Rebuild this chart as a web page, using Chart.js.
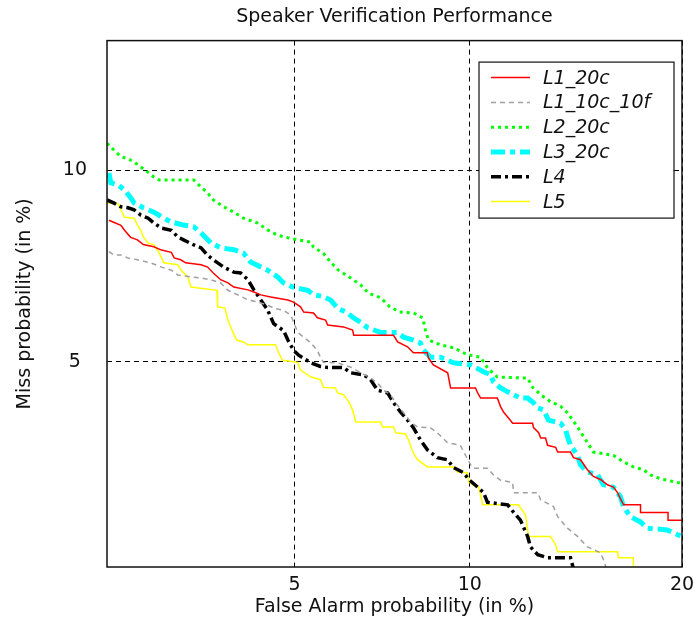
<!DOCTYPE html>
<html><head><meta charset="utf-8">
<script src="https://cdn.jsdelivr.net/npm/chart.js@4.4.1/dist/chart.umd.min.js"></script>
<style>html,body{margin:0;padding:0;background:#fff;} canvas{display:block;}</style>
</head><body>
<canvas id="c" width="693" height="626"></canvas>
<script>
// ---------- data (values in %) ----------
const chartTitle = 'Speaker Verification Performance';
const xTitle = 'False Alarm probability (in %)';
const yTitle = 'Miss probability (in %)';
const xTicks = [5, 10, 20];
const yTicks = [5, 10];
const xRange = [2.1, 20];
const yRange = [2.1, 15];
const seriesNames = ['L1_20c', 'L1_10c_10f', 'L2_20c', 'L3_20c', 'L4', 'L5'];

const L1_20c_fa = [2.12,2.17,2.25,2.29,2.36,2.44,2.51,2.64,2.74,2.87,2.91,3.0,3.07,3.30,3.40,3.49,3.61,3.73,3.83,4.08,4.19,4.32,4.51,4.86,4.98,5.13,5.2,5.42,5.51,5.70,5.75,6.14,6.37,6.40,7.5,7.62,7.92,8.10,8.54,8.58,8.74,9.22,9.32,10.21,10.29,10.40,11.04,11.17,11.29,11.49,11.65,12.48,12.52,12.74,12.83,13.04,13.13,13.49,13.58,14.17,14.31,14.64,14.97,15.26,15.61,15.96,16.26,16.47,16.78,17.68,17.68,19.2,19.2,20];
const L1_20c_miss = [8.43,8.37,8.28,8.14,7.94,7.87,7.74,7.68,7.59,7.53,7.38,7.33,7.25,7.2,7.14,6.99,6.82,6.74,6.64,6.57,6.52,6.45,6.4,6.33,6.28,6.17,6.05,6.03,5.92,5.87,5.76,5.72,5.65,5.54,5.54,5.4,5.3,5.18,5.18,5.07,4.94,4.79,4.51,4.51,4.42,4.33,4.33,4.18,4.09,3.99,3.91,3.91,3.84,3.76,3.68,3.68,3.57,3.54,3.47,3.47,3.39,3.36,3.22,3.13,3.09,3.02,2.99,2.92,2.77,2.77,2.68,2.68,2.59,2.59];

const L1_10c_10f_fa = [2.12,2.17,2.25,2.33,2.44,2.60,2.74,2.87,2.96,3.15,3.30,3.45,3.61,3.73,3.90,4.08,4.26,4.45,4.57,4.77,4.92,4.98,5.07,5.20,5.36,5.51,5.58,5.65,5.99,6.31,6.58,6.85,7.04,7.21,7.41,7.61,7.8,8.01,8.23,8.64,8.87,9.21,9.66,9.85,10.03,10.14,10.67,10.89,11.17,11.65,11.69,12.70,12.83,13.39,13.58,14.03,14.5,14.97,15.61,15.76,15.91];
const L1_10c_10f_miss = [7.55,7.46,7.46,7.38,7.33,7.25,7.14,7.06,6.94,6.89,6.86,6.82,6.74,6.56,6.45,6.33,6.28,6.21,6.14,6.09,5.98,5.83,5.6,5.5,5.38,5.22,5.09,4.99,4.98,4.9,4.79,4.69,4.6,4.47,4.39,4.21,4.08,3.93,3.85,3.84,3.76,3.61,3.57,3.42,3.29,3.24,3.24,3.15,3.08,3.05,2.92,2.92,2.83,2.75,2.63,2.5,2.41,2.30,2.24,2.17,2.08];

const L2_20c_fa = [2.1,2.17,2.25,2.33,2.40,2.48,2.565,2.64,2.71,3.19,3.30,3.40,3.49,3.66,3.83,4.0,4.26,4.45,4.65,4.86,5.07,5.36,5.42,5.65,5.82,6.01,6.31,6.58,6.79,7.13,7.39,7.68,8.10,8.39,8.48,8.58,8.98,9.42,9.92,10.40,10.66,11.04,12.27,12.48,12.83,13.26,13.71,14.03,14.5,14.97,15.26,16.27,16.78,17.3,17.84,18.22,18.77,19.95,20];
const L2_20c_miss = [10.92,10.69,10.45,10.38,10.27,10.10,9.93,9.77,9.67,9.67,9.44,9.26,9.04,8.83,8.67,8.49,8.35,8.15,8.0,7.93,7.87,7.81,7.67,7.5,7.27,7.06,6.87,6.69,6.49,6.38,6.17,6.05,6.03,5.92,5.65,5.44,5.34,5.28,5.14,5.09,4.88,4.71,4.69,4.52,4.39,4.27,4.19,4.08,3.85,3.61,3.47,3.42,3.33,3.26,3.22,3.15,3.10,3.04,3.03];

const L3_20c_fa = [2.12,2.14,2.22,2.29,2.36,2.40,2.51,2.64,2.77,2.87,3.04,3.19,3.30,3.45,3.61,3.83,4.0,4.13,4.32,4.45,4.65,4.77,4.98,5.29,5.42,5.65,5.82,5.99,6.24,6.39,6.58,6.77,7.13,7.61,7.8,8.1,8.32,8.41,8.64,8.98,9.42,10.03,10.51,10.78,10.89,11.17,11.45,11.69,11.97,12.27,12.52,12.7,12.95,13.17,13.71,13.94,14.03,14.17,14.5,14.64,14.97,15.47,15.76,16.26,16.62,16.78,17.14,17.68,18.05,19.16,19.72,20];
const L3_20c_miss = [9.9,9.58,9.51,9.35,9.11,8.95,8.8,8.67,8.49,8.38,8.29,8.24,8.06,7.79,7.65,7.60,7.51,7.27,7.14,7.06,6.89,6.74,6.63,6.56,6.45,6.41,6.33,6.14,6.03,5.92,5.82,5.7,5.6,5.6,5.5,5.44,5.38,5.24,5.09,5.09,4.98,4.94,4.81,4.75,4.62,4.51,4.44,4.39,4.33,4.33,4.25,4.16,4.13,3.96,3.91,3.81,3.7,3.57,3.42,3.29,3.19,3.15,3.02,2.99,2.87,2.75,2.63,2.57,2.5,2.48,2.43,2.41];

const L4_fa = [2.1,2.17,2.25,2.33,2.40,2.48,2.57,2.64,2.74,2.87,2.96,3.04,3.19,3.30,3.40,3.49,3.66,3.83,3.95,4.08,4.19,4.32,4.45,4.57,4.77,4.86,4.98,5.09,5.36,5.58,5.75,6.14,6.31,6.66,6.85,7.04,7.33,7.5,7.71,7.92,8.10,8.32,8.55,8.87,9.21,9.42,9.78,9.96,10.29,10.51,10.66,11.45,11.69,11.97,12.1,12.27,12.39,12.7,13.13,14.17,14.31];
const L4_miss = [9.04,8.95,8.83,8.8,8.74,8.58,8.49,8.35,8.2,8.14,7.95,7.87,7.73,7.65,7.45,7.33,7.14,7.01,6.99,6.82,6.57,6.33,6.1,5.79,5.64,5.44,5.23,5.13,4.98,4.91,4.89,4.89,4.79,4.75,4.66,4.47,4.42,4.25,4.09,3.96,3.84,3.65,3.5,3.39,3.36,3.25,3.18,3.09,2.99,2.92,2.8,2.77,2.68,2.59,2.51,2.41,2.30,2.22,2.19,2.19,2.08];

const L5_fa = [2.1,2.22,2.25,2.29,2.40,2.44,2.48,2.51,2.57,2.64,2.70,2.74,2.77,2.96,3.0,3.10,3.15,3.55,3.56,3.68,3.73,3.80,3.88,4.0,4.08,4.61,4.67,4.75,5.07,5.13,5.36,5.58,5.65,5.94,5.99,6.14,6.27,6.37,6.45,7.13,7.18,7.5,7.56,7.86,7.95,8.10,8.23,8.55,9.42,9.56,9.92,9.96,10.1,10.33,10.48,11.89,12.18,12.27,12.31,13.26,13.49,13.58,16.47,16.52,17.3,17.3];
const L5_miss = [8.95,8.92,8.74,8.52,8.49,8.29,8.14,7.95,7.78,7.74,7.55,7.38,7.25,7.2,7.07,6.89,6.64,6.56,6.17,6.14,5.87,5.65,5.44,5.4,5.34,5.34,5.18,5.03,4.99,4.84,4.71,4.66,4.52,4.51,4.42,4.39,4.27,4.13,3.93,3.93,3.85,3.85,3.76,3.74,3.65,3.45,3.36,3.26,3.26,3.19,3.18,3.06,3.02,2.99,2.77,2.77,2.65,2.48,2.41,2.41,2.32,2.25,2.25,2.19,2.19,2.08];

// ---------- normal deviate helpers ----------
function probit(p) {
  p = Math.min(Math.max(p, 1e-9), 1 - 1e-9);
  const a = [-3.969683028665376e+01, 2.209460984245205e+02, -2.759285104469687e+02, 1.383577518672690e+02, -3.066479806614716e+01, 2.506628277459239e+00];
  const b = [-5.447609879822406e+01, 1.615858368580409e+02, -1.556989798598866e+02, 6.680131188771972e+01, -1.328068155288572e+01];
  const c = [-7.784894002430293e-03, -3.223964580411365e-01, -2.400758277161838e+00, -2.549732539343734e+00, 4.374664141464968e+00, 2.938163982698783e+00];
  const d = [7.784695709041462e-03, 3.224671290700398e-01, 2.445134137142996e+00, 3.754408661907416e+00];
  const pl = 0.02425;
  let q, r;
  if (p < pl) {
    q = Math.sqrt(-2 * Math.log(p));
    return (((((c[0]*q+c[1])*q+c[2])*q+c[3])*q+c[4])*q+c[5]) / ((((d[0]*q+d[1])*q+d[2])*q+d[3])*q+1);
  }
  if (p <= 1 - pl) {
    q = p - 0.5; r = q * q;
    return (((((a[0]*r+a[1])*r+a[2])*r+a[3])*r+a[4])*r+a[5])*q / (((((b[0]*r+b[1])*r+b[2])*r+b[3])*r+b[4])*r+1);
  }
  q = Math.sqrt(-2 * Math.log(1 - p));
  return -(((((c[0]*q+c[1])*q+c[2])*q+c[3])*q+c[4])*q+c[5]) / ((((d[0]*q+d[1])*q+d[2])*q+d[3])*q+1);
}
function ncdf(z) {
  const x = Math.abs(z) / Math.SQRT2;
  const t = 1 / (1 + 0.3275911 * x);
  const y = 1 - (((((1.061405429*t - 1.453152027)*t) + 1.421413741)*t - 0.284496736)*t + 0.254829592)*t*Math.exp(-x*x);
  return z >= 0 ? (1 + y) / 2 : (1 - y) / 2;
}

// ---------- custom DET (normal deviate) scale ----------
class ProbitScale extends Chart.Scale {
  static id = 'probit';
  static defaults = {};
  determineDataLimits() { this.min = this.options.min; this.max = this.options.max; }
  buildTicks() { return (this.options.tickValues || []).map(v => ({ value: v })); }
  configure() {
    super.configure();
    this._zMin = probit(this.min / 100);
    this._zMax = probit(this.max / 100);
  }
  getLabelForValue(v) { return String(v); }
  getPixelForValue(v) {
    const z = probit(v / 100);
    return this.getPixelForDecimal((z - this._zMin) / (this._zMax - this._zMin));
  }
  getValueForPixel(px) {
    const dec = this.getDecimalForPixel(px);
    return 100 * ncdf(this._zMin + dec * (this._zMax - this._zMin));
  }
}
Chart.register(ProbitScale);

const FONT = 'DejaVu Sans';
const pts = (fa, miss) => fa.map((x, i) => ({ x: x, y: miss[i] }));

const styles = [
  { color: '#ff0000', width: 1.5, dash: [] },
  { color: '#a0a0a0', width: 1.5, dash: [5, 4] },
  { color: '#00ff00', width: 3, dash: [3, 4] },
  { color: '#00ffff', width: 5, dash: [14, 5, 5, 5] },
  { color: '#000000', width: 3.5, dash: [10, 4, 3, 4] },
  { color: '#ffff00', width: 1.5, dash: [] }
];
const seriesData = [
  pts(L1_20c_fa, L1_20c_miss),
  pts(L1_10c_10f_fa, L1_10c_10f_miss),
  pts(L2_20c_fa, L2_20c_miss),
  pts(L3_20c_fa, L3_20c_miss),
  pts(L4_fa, L4_miss),
  pts(L5_fa, L5_miss)
];

const datasets = seriesNames.map((name, i) => ({
  label: name,
  data: seriesData[i],
  borderColor: styles[i].color,
  borderWidth: styles[i].width,
  borderDash: styles[i].dash,
  borderCapStyle: 'butt',
  borderJoinStyle: 'miter',
  pointRadius: 0,
  tension: 0,
  fill: false
}));

const framePlugin = {
  id: 'frameLegend',
  afterDraw(chart) {
    const ctx = chart.ctx, ca = chart.chartArea;
    ctx.save();
    ctx.setLineDash([]);
    ctx.strokeStyle = '#111';
    ctx.lineWidth = 1.5;
    ctx.strokeRect(ca.left, ca.top, ca.right - ca.left, ca.bottom - ca.top);
    // legend box
    const bx = ca.right - 203, by = ca.top + 21.5, bw = 195, bh = 156;
    ctx.fillStyle = '#fff';
    ctx.fillRect(bx, by, bw, bh);
    ctx.lineWidth = 1.2;
    ctx.strokeStyle = '#111';
    ctx.strokeRect(bx, by, bw, bh);
    ctx.font = 'italic 19px "' + FONT + '"';
    ctx.textBaseline = 'middle';
    ctx.textAlign = 'left';
    chart.data.datasets.forEach((ds, i) => {
      const y = by + 15.5 + i * 24.8;
      ctx.beginPath();
      ctx.strokeStyle = ds.borderColor;
      ctx.lineWidth = ds.borderWidth;
      ctx.lineCap = 'butt';
      ctx.setLineDash(ds.borderDash || []);
      ctx.moveTo(bx + 12, y);
      ctx.lineTo(bx + 51, y);
      ctx.stroke();
      ctx.setLineDash([]);
      ctx.fillStyle = '#111';
      ctx.fillText(ds.label, bx + 64, y + 1);
    });
    ctx.restore();
  }
};

new Chart(document.getElementById('c'), {
  type: 'line',
  data: { datasets: datasets },
  plugins: [framePlugin],
  options: {
    responsive: false,
    animation: false,
    events: [],
    layout: { padding: { left: 0, right: 11, top: 0, bottom: 0 }, autoPadding: false },
    plugins: {
      legend: { display: false },
      tooltip: { enabled: false },
      title: {
        display: true, text: chartTitle, fullSize: false,
        color: '#111', font: { family: FONT, size: 19, weight: 'normal', lineHeight: 1.2 },
        padding: { top: 6, bottom: 11.8 }
      }
    },
    scales: {
      x: {
        type: 'probit', position: 'bottom', min: xRange[0], max: xRange[1], tickValues: xTicks,
        grid: { color: '#000', lineWidth: 1, drawTicks: false },
        border: { display: false, dash: [5, 4] },
        ticks: { color: '#111', font: { family: FONT, size: 19 }, padding: 7, maxRotation: 0, autoSkip: false },
        title: { display: true, text: xTitle, color: '#111', font: { family: FONT, size: 19, lineHeight: 1.2 }, padding: { top: 0, bottom: 8 } },
        afterFit(s) { s.height = 59; s.paddingLeft = 0; s.paddingRight = 0; }
      },
      y: {
        type: 'probit', position: 'left', min: yRange[0], max: yRange[1], tickValues: yTicks,
        grid: { color: '#000', lineWidth: 1, drawTicks: false },
        border: { display: false, dash: [5, 4] },
        ticks: { color: '#111', font: { family: FONT, size: 19 }, padding: 20, crossAlign: 'center', autoSkip: false },
        title: { display: true, text: yTitle, color: '#111', font: { family: FONT, size: 19, lineHeight: 1.2 }, padding: { top: 14, bottom: 0 } },
        afterFit(s) { s.width = 107; s.paddingTop = 0; s.paddingBottom = 0; }
      }
    }
  }
});
</script></body></html>
